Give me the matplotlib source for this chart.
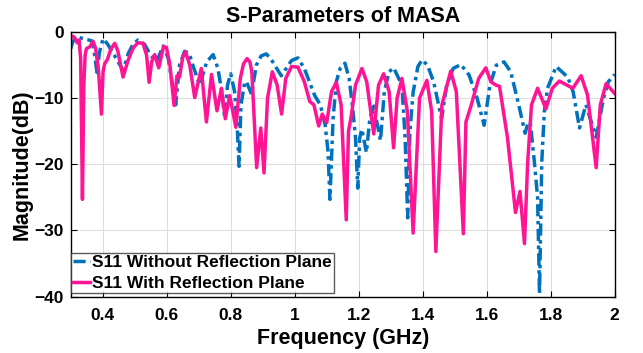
import matplotlib
matplotlib.use('Agg')
import matplotlib.pyplot as plt

# S11 with reflection plane (solid pink)
pink_f = [0.300, 0.305, 0.312, 0.320, 0.326, 0.331, 0.3366, 0.341, 0.345, 0.349,
          0.360, 0.370, 0.378, 0.387, 0.396, 0.401, 0.406, 0.415, 0.425, 0.4375,
          0.447, 0.4635, 0.479, 0.495, 0.510, 0.526, 0.537, 0.545, 0.553, 0.5625,
          0.575, 0.590, 0.599, 0.610, 0.623, 0.632, 0.640, 0.650, 0.659, 0.672,
          0.6875, 0.708, 0.724, 0.740, 0.757, 0.771, 0.783, 0.797, 0.816, 0.830,
          0.840, 0.851, 0.860, 0.866, 0.881, 0.894, 0.904, 0.915, 0.930, 0.945,
          0.959, 0.972, 0.990, 1.010, 1.030, 1.047, 1.060, 1.075, 1.086, 1.100,
          1.115, 1.130, 1.145, 1.161, 1.168, 1.176, 1.190, 1.210, 1.225, 1.247,
          1.262, 1.278, 1.295, 1.309, 1.320, 1.335, 1.352, 1.370, 1.390, 1.413,
          1.428, 1.441, 1.460, 1.4875, 1.505, 1.527, 1.535, 1.550, 1.575, 1.597,
          1.613, 1.628, 1.640, 1.665, 1.690, 1.704, 1.718, 1.728, 1.740, 1.759,
          1.785, 1.805, 1.827, 1.850, 1.869, 1.895, 1.915, 1.942, 1.955, 1.973,
          2.000]
pink_db = [-0.9, -0.6, -0.8, -1.6, -1.2, -4.0, -25.3, -8.0, -3.5, -2.5,
           -2.2, -1.4, -2.5, -6.0, -12.4, -6.0, -4.8, -4.1, -2.6, -1.7,
           -2.8, -6.8, -4.3, -2.4, -1.6, -1.7, -3.5, -7.6, -4.5, -3.4,
           -5.4, -2.2, -2.3, -5.0, -11.1, -6.6, -6.8, -3.8, -3.0, -5.0,
           -9.9, -5.5, -13.6, -6.4, -11.9, -8.5, -13.1, -9.6, -14.4, -7.0,
           -4.8, -4.0, -4.5, -6.0, -20.5, -14.5, -21.3, -10.0, -6.0, -8.0,
           -12.4, -7.0, -5.2, -5.3, -7.5, -10.5, -11.0, -14.2, -12.4, -13.7,
           -9.0, -7.6, -11.0, -28.4, -15.0, -12.9, -8.0, -5.5, -7.5, -15.4,
           -8.0, -6.3, -9.0, -17.5, -10.0, -7.0, -12.0, -30.4, -10.0, -7.3,
           -12.0, -33.2, -11.0, -5.9, -9.0, -30.5, -13.6, -11.3, -7.0, -5.4,
           -7.5, -8.0, -8.2, -16.0, -27.3, -24.1, -32.0, -19.7, -11.0, -8.5,
           -11.6, -8.5, -7.4, -8.0, -8.5, -6.6, -9.5, -20.5, -11.0, -7.8,
           -9.3]

# S11 without reflection plane (dash-dot blue)
blue_f = [0.300, 0.306, 0.318, 0.340, 0.365, 0.372, 0.382, 0.390, 0.401, 0.415,
          0.440, 0.4635, 0.480, 0.495, 0.510, 0.530, 0.550, 0.568, 0.589, 0.605,
          0.618, 0.628, 0.640, 0.656, 0.670, 0.685, 0.703, 0.725, 0.745, 0.760,
          0.772, 0.781, 0.790, 0.800, 0.812, 0.820, 0.826, 0.832, 0.844, 0.850,
          0.865, 0.880, 0.895, 0.911, 0.925, 0.940, 0.958, 0.972, 0.990, 1.010,
          1.030, 1.0625, 1.080, 1.095, 1.104, 1.110, 1.120, 1.130, 1.142, 1.157,
          1.170, 1.180, 1.190, 1.197, 1.203, 1.210, 1.224, 1.235, 1.247, 1.268,
          1.280, 1.295, 1.309, 1.325, 1.335, 1.345, 1.353, 1.360, 1.370, 1.385,
          1.398, 1.415, 1.434, 1.459, 1.475, 1.495, 1.519, 1.545, 1.570, 1.592,
          1.610, 1.630, 1.654, 1.675, 1.700, 1.720, 1.728, 1.736, 1.749, 1.759,
          1.765, 1.772, 1.780, 1.790, 1.817, 1.853, 1.870, 1.890, 1.910, 1.942,
          1.965, 1.980, 2.000]
blue_db = [-2.5, -1.5, -0.7, -1.0, -1.3, -2.5, -6.1, -3.0, -1.0, -1.8,
           -3.8, -5.8, -3.2, -1.8, -1.2, -1.8, -3.5, -4.5, -2.1, -4.0,
           -8.0, -11.0, -5.0, -2.9, -3.2, -5.5, -8.0, -4.5, -3.4, -5.5,
           -9.0, -12.9, -8.0, -6.3, -9.0, -14.0, -20.3, -11.0, -7.5, -7.6,
           -9.4, -5.0, -3.6, -3.3, -4.0, -5.2, -6.6, -5.6, -4.3, -3.9,
           -5.5, -9.6, -11.0, -14.0, -18.0, -25.3, -13.0, -7.5, -5.5, -4.7,
           -7.0, -11.0, -16.0, -23.6, -16.0, -14.7, -18.2, -13.0, -11.2, -16.4,
           -9.0, -6.0, -5.4, -7.0, -8.0, -16.0, -28.1, -15.0, -9.1, -5.2,
           -4.2, -5.0, -7.5, -13.1, -8.0, -5.5, -4.9, -6.5, -10.0, -14.1,
           -8.0, -5.0, -4.5, -6.0, -11.0, -15.3, -13.9, -13.6, -19.7, -25.0,
           -39.6, -19.7, -12.1, -8.5, -5.2, -6.8, -9.0, -14.5, -11.0, -15.9,
           -10.0, -7.5, -6.4]

x_ticks = [0.4, 0.6, 0.8, 1.0, 1.2, 1.4, 1.6, 1.8, 2.0]
x_labels = ['0.4', '0.6', '0.8', '1', '1.2', '1.4', '1.6', '1.8', '2']
y_ticks = [-40, -30, -20, -10, 0]

plt.rcParams['font.family'] = ['Liberation Sans', 'DejaVu Sans']
plt.rcParams['font.weight'] = 'bold'

fig = plt.figure(figsize=(6.43, 3.53), dpi=100)
ax = fig.add_axes([0.110, 0.160, 0.846, 0.749])

ax.plot(blue_f, blue_db, color='#0072BD', lw=2.5,
        linestyle=(0, (3.5, 1.3, 1.0, 1.3)), label='S11 Without Reflection Plane')
ax.plot(pink_f, pink_db, color='#FF1493', lw=2.5, label='S11 With Reflection Plane')

ax.set_xlim(0.3, 2.0)
ax.set_ylim(-40, 0)
ax.set_xticks(x_ticks)
ax.set_xticklabels(x_labels)
ax.set_yticks(y_ticks)
ax.tick_params(direction='in', top=True, right=True, labelsize=12.5, length=4)
ax.tick_params(axis='x', pad=8)
ax.tick_params(axis='y', pad=5)
for lab in ax.get_xticklabels() + ax.get_yticklabels():
    lab.set_fontweight('bold')
ax.grid(True, color='#dddddd', lw=0.8)
for s in ax.spines.values():
    s.set_linewidth(1.0)

ax.set_title('S-Parameters of MASA', fontsize=15.5, fontweight='bold', pad=7)
ax.set_xlabel('Frequency (GHz)', fontsize=15.5, fontweight='bold', labelpad=4)
ax.set_ylabel('Magnitude(dB)', fontsize=15.5, fontweight='bold', labelpad=1)

leg = ax.legend(loc='lower left', bbox_to_anchor=(0.0, 0.013), fontsize=12.5,
                frameon=True, fancybox=False, borderaxespad=0, handlelength=1.0,
                borderpad=0.12, labelspacing=0.35, handletextpad=0.12)
leg.get_frame().set_edgecolor('#333333')
leg.get_frame().set_linewidth(1.0)
for t in leg.get_texts():
    t.set_fontweight('bold')

fig.savefig('out.png', dpi=100)
